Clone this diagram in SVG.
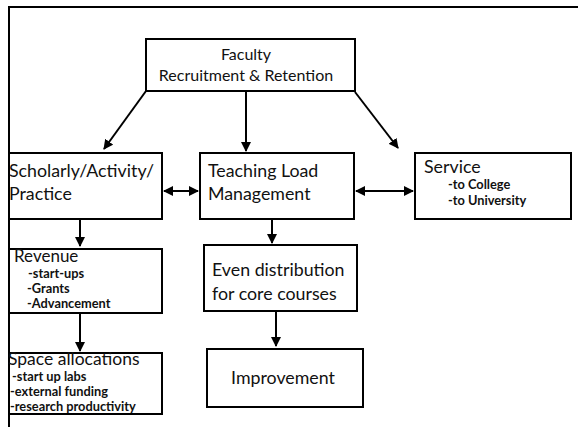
<svg xmlns="http://www.w3.org/2000/svg" width="578" height="427" viewBox="0 0 578 427">
<style>
.box{fill:#fff;stroke:#000;stroke-width:2}
.t{font-family:Lato,"Liberation Sans",sans-serif;fill:#111}
.big{font-size:16px}
.lg{font-size:17.8px}
.sm{font-size:12.8px;font-weight:bold}
.conn{stroke:#000;stroke-width:2;fill:none}
</style>
<defs>
<marker id="ah" viewBox="0 0 10 10" refX="9" refY="5" markerWidth="5" markerHeight="5" orient="auto-start-reverse" markerUnits="strokeWidth">
<path d="M0,0 L10,5 L0,10 z" fill="#000"/>
</marker>
</defs>
<rect width="578" height="427" fill="#fff"/>
<path d="M9,427 V7 H578" fill="none" stroke="#000" stroke-width="2"/>
<g id="connectors">
<line class="conn" x1="146" y1="91" x2="104" y2="149" marker-end="url(#ah)"/>
<line class="conn" x1="246" y1="92" x2="246" y2="151" marker-end="url(#ah)"/>
<line class="conn" x1="355" y1="92" x2="398" y2="148" marker-end="url(#ah)"/>
<line class="conn" x1="164" y1="191" x2="198" y2="191" marker-start="url(#ah)" marker-end="url(#ah)"/>
<line class="conn" x1="356" y1="191" x2="413" y2="191" marker-start="url(#ah)" marker-end="url(#ah)"/>
<line class="conn" x1="80" y1="220" x2="80" y2="246" marker-end="url(#ah)"/>
<line class="conn" x1="80" y1="314" x2="80" y2="351" marker-end="url(#ah)"/>
<line class="conn" x1="272" y1="220" x2="272" y2="243" marker-end="url(#ah)"/>
<line class="conn" x1="276" y1="312" x2="276" y2="346" marker-end="url(#ah)"/>
</g>
<g id="faculty">
<rect class="box" x="146" y="39" width="209" height="52"/>
<text class="t big" x="246" y="60" text-anchor="middle">Faculty</text>
<text class="t big" x="246" y="81" text-anchor="middle">Recruitment &amp; Retention</text>
</g>
<g id="scholarly">
<rect class="box" x="9" y="153" width="153" height="66"/>
<text class="t lg" x="9" y="177">Scholarly/Activity/</text>
<text class="t lg" x="9" y="200">Practice</text>
</g>
<g id="teaching">
<rect class="box" x="200" y="153" width="154" height="66"/>
<text class="t lg" x="208" y="177">Teaching Load</text>
<text class="t lg" x="208" y="200">Management</text>
</g>
<g id="service">
<rect class="box" x="415" y="153" width="156" height="66"/>
<text class="t lg" x="424" y="173">Service</text>
<text class="t sm" x="448" y="189">-to College</text>
<text class="t sm" x="448" y="205">-to University</text>
</g>
<g id="revenue">
<rect class="box" x="9" y="249" width="153" height="64"/>
<text class="t" x="14" y="262" font-size="17">Revenue</text>
<text class="t sm" x="28" y="278">-start-ups</text>
<text class="t sm" x="27" y="293">-Grants</text>
<text class="t sm" x="27" y="308">-Advancement</text>
</g>
<g id="space">
<rect class="box" x="9" y="353" width="153" height="61"/>
<text class="t" x="8" y="365" font-size="17.5">Space allocations</text>
<text class="t sm" x="12" y="381">-start up labs</text>
<text class="t sm" x="10" y="396">-external funding</text>
<text class="t sm" x="10" y="411">-research productivity</text>
</g>
<g id="even">
<rect class="box" x="204" y="245" width="153" height="66"/>
<text class="t lg" x="212" y="276">Even distribution</text>
<text class="t lg" x="212" y="300">for core courses</text>
</g>
<g id="improvement">
<rect class="box" x="207" y="349" width="156" height="58"/>
<text class="t lg" x="283" y="384" text-anchor="middle">Improvement</text>
</g>
</svg>
